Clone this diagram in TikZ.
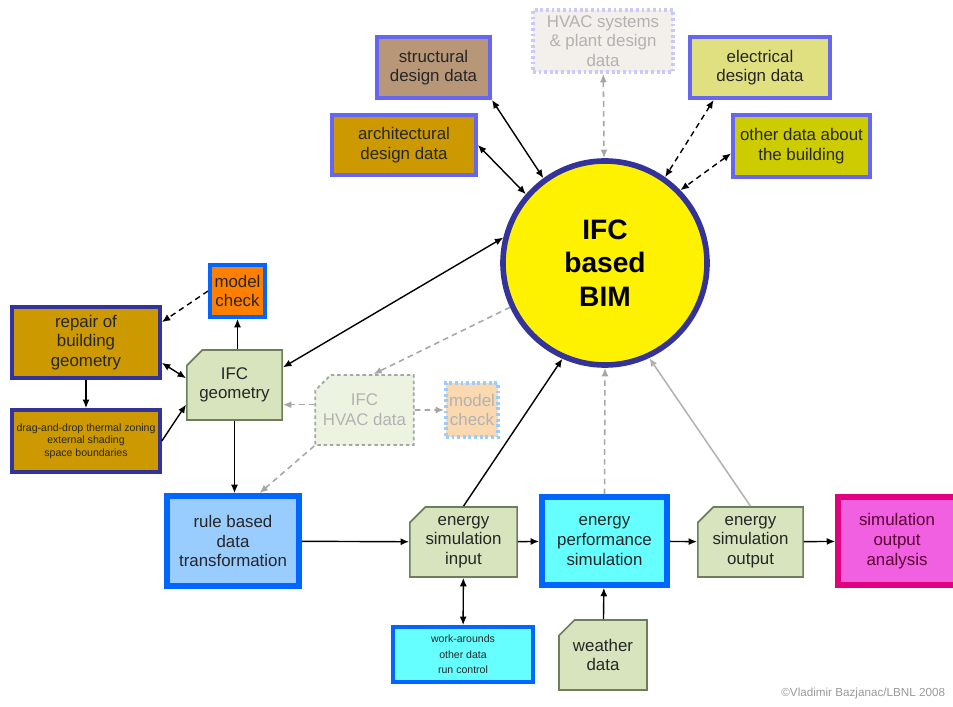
\documentclass[tikz,border=0pt]{standalone}
\usepackage{fontspec}
\setmainfont{Liberation Sans}
\usetikzlibrary{shapes.misc,arrows.meta}

\definecolor{frame}{RGB}{102,102,240}
\definecolor{navy}{RGB}{51,51,153}
\definecolor{azure}{RGB}{0,102,255}
\definecolor{gold}{RGB}{204,153,0}
\definecolor{tan}{RGB}{184,150,120}
\definecolor{khaki}{RGB}{224,224,128}
\definecolor{olivey}{RGB}{204,204,0}
\definecolor{sage}{RGB}{215,228,189}
\definecolor{moss}{RGB}{110,125,90}
\definecolor{sky}{RGB}{153,204,255}
\definecolor{aqua}{RGB}{102,255,255}
\definecolor{pinkish}{RGB}{240,96,224}
\definecolor{plum}{RGB}{224,0,128}
\definecolor{peach}{RGB}{250,217,176}
\definecolor{linen}{RGB}{243,239,234}

\begin{document}
\begin{tikzpicture}[
    x=0.025cm, y=-0.025cm,
    >={Latex[length=6pt,width=5pt]},
    align=center,
    font=\fontsize{12}{14}\selectfont,
    base/.style={rectangle, draw, inner sep=1pt, text=black!85},
    design/.style={base, line width=2.6pt, draw=frame},
    geom/.style={base, line width=2.6pt, draw=navy, fill=gold},
    doc/.style={chamfered rectangle, chamfered rectangle corners=north west,
                chamfered rectangle angle=45, chamfered rectangle xsep=5.5pt,
                chamfered rectangle ysep=5.5pt, inner sep=0pt,
                draw=moss, fill=sage, line width=1.2pt, text=black!85},
    proc/.style={base, line width=4pt, draw=azure},
    faint/.style={text=black!30},
    tiny/.style={font=\fontsize{7.5}{9}\selectfont},
    dep/.style={black, line width=1pt},
    ddep/.style={dep, dash pattern=on 4pt off 3pt},
    gdep/.style={black!35, line width=1.1pt, dash pattern=on 4pt off 3pt},
    ldep/.style={black!30, line width=1.1pt}
  ]
  \useasboundingbox (0,0) rectangle (953,707);

  % data sources
  \node (struct)  [design, fill=tan, minimum width=2.83cm, minimum height=1.53cm]
                  at (433.5,67.5)  {structural\\design data};
  \node (hvacsys) [base, faint, fill=linen, draw=frame!35, line width=2.6pt,
                   dash pattern=on 2pt off 2pt, minimum width=3.5cm, minimum height=1.55cm]
                  at (603,41)      {HVAC systems\\\& plant design\\data};
  \node (elec)    [design, fill=khaki, minimum width=3.5cm, minimum height=1.53cm]
                  at (760,67.5)    {electrical\\design data};
  \node (arch)    [design, fill=gold, minimum width=3.6cm, minimum height=1.5cm]
                  at (404,145)     {architectural\\design data};
  \node (other)   [design, fill=olivey, minimum width=3.43cm, minimum height=1.55cm]
                  at (801.5,146)   {other data about\\the building};

  \node (bim)     [circle, draw=navy, fill=yellow, line width=4pt, minimum size=5.1cm,
                   font=\fontsize{20}{24}\selectfont\bfseries]
                  at (605,263)     {IFC\\based\\BIM};

  % geometry
  \node (check)   [base, fill=orange, draw=azure, line width=2.6pt, inner sep=0pt,
                   minimum width=1.38cm, minimum height=1.3cm]
                  at (237.5,291)   {model\\check};
  \node (repair)  [geom, minimum width=3.7cm, minimum height=1.78cm]
                  at (86,342.5)    {repair of\\building\\geometry};
  \node (zoning)  [geom, tiny, minimum width=3.7cm, minimum height=1.55cm]
                  at (86,441)      {drag-and-drop thermal zoning\\external shading\\space boundaries};
  \node (geo)     [doc, minimum width=2.38cm, minimum height=1.75cm]
                  at (234.5,385)   {IFC\\geometry};
  \node (hvac)    [doc, faint, fill=sage!45, draw=black!35, dash pattern=on 2.5pt off 2pt,
                   minimum width=2.43cm, minimum height=1.75cm]
                  at (364.5,410)   {IFC\\HVAC data};
  \node (check2)  [base, faint, fill=peach, draw=sky, line width=2.6pt, inner sep=0pt,
                   dash pattern=on 2pt off 2pt, minimum width=1.3cm, minimum height=1.35cm]
                  at (472,410)     {model\\check};

  % simulation chain
  \node (rule)    [proc, fill=sky, minimum width=3.3cm, minimum height=2.25cm]
                  at (233,541)     {rule based\\data\\transformation};
  \node (input)   [doc, minimum width=2.68cm, minimum height=1.75cm]
                  at (463.5,542)   {energy\\simulation\\input};
  \node (work)    [base, fill=aqua, draw=azure, line width=2.6pt,
                   font=\fontsize{7.5}{11}\selectfont, minimum width=3.5cm, minimum height=1.38cm]
                  at (463,654.5)   {work-arounds\\other data\\run control};
  \node (perf)    [proc, fill=aqua, minimum width=3.13cm, minimum height=2.2cm]
                  at (604.5,541)   {energy\\performance\\simulation};
  \node (weather) [doc, minimum width=2.2cm, minimum height=1.75cm]
                  at (603,655)     {weather\\data};
  \node (output)  [doc, minimum width=2.63cm, minimum height=1.75cm]
                  at (750.5,542)   {energy\\simulation\\output};
  \node (anal)    [base, fill=pinkish, draw=plum, text=plum!40!black, line width=4pt,
                   minimum width=2.95cm, minimum height=2.2cm]
                  at (897,541)     {simulation\\output\\analysis};

  \node (credit)  [text=black!40, font=\fontsize{8.3}{10}\selectfont, anchor=east]
                  at (950,693)     {©Vladimir Bazjanac/LBNL 2008};

  % connectors
  \draw[<->,dep]  (arch.east)          -- (bim.139);
  \draw[<->,dep]  (struct.south east)  -- (bim.126);
  \draw[<->,gdep] (hvacsys)            -- (bim);
  \draw[<->,ddep] (elec.215)           -- (bim.55);
  \draw[<->,ddep] (other.186)          -- (bim.44);

  \draw[<->,dep]  (geo.20)             -- (bim.166);
  \draw[->,gdep]  (bim.205)            -- (hvac.76);
  \draw[->,dep]   (geo.north -| check) -- (check.south);
  \draw[->,ddep]  (check.west)         -- (repair.15);
  \draw[<->,dep]  (repair.-15)         -- (geo.172);
  \draw[->,dep]   (repair)             -- (zoning);
  \draw[->,dep]   (zoning.east)        -- (geo.202);
  \draw[->,gdep]  (hvac.174)           -- (hvac.174 -| geo.east);
  \draw[->,gdep]  (hvac)               -- (check2);
  \draw[->,dep]   (geo.south)          -- (geo.south |- rule.north);
  \draw[->,gdep]  (hvac.south west)    -- (rule.61);

  \draw[->,dep]   (rule)   edge (input);
  \draw[->,dep]   (input.north) -- (bim.246);
  \draw[<->,dep]  (input)  -- (work);
  \draw[->,dep]   (input)  edge (perf);
  \draw[->,gdep]  (perf.north) -- (bim.south);
  \draw[->,dep]   (weather) -- (perf);
  \draw[->,dep]   (perf)   edge (output);
  \draw[->,ldep]  (output.north) -- (bim.295);
  \draw[->,dep]   (output) edge (anal);
\end{tikzpicture}
\end{document}
